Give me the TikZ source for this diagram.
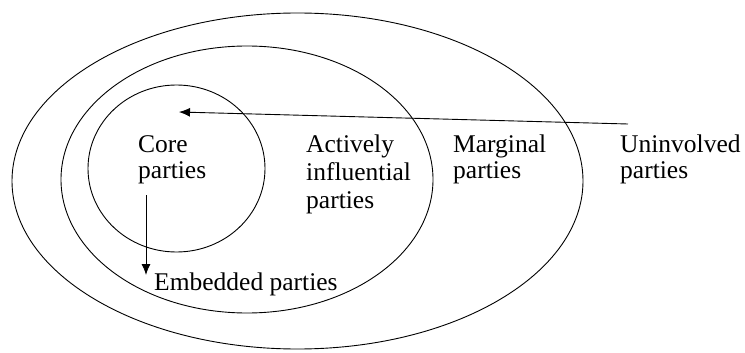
\documentclass[tikz,border=0pt]{standalone}
\usepackage{fontspec}
\setmainfont{Liberation Serif}
\usetikzlibrary{arrows.meta}
\begin{document}
\begin{tikzpicture}[x=1pt,y=-1pt,
  ring/.style={line width=0.9pt},
  lbl/.style={anchor=base west,inner sep=0pt,align=left,font=\fontsize{25.5}{25}\selectfont},
  lblwide/.style={lbl,font=\fontsize{25.5}{28}\selectfont},
  conn/.style={line width=0.9pt,-{Latex[length=11pt,width=9pt]}}]
\useasboundingbox (0,0) rectangle (745,353);
% rings
\draw[ring] (297.5,181) ellipse [x radius=285.5pt, y radius=168pt];
\draw[ring] (247,179.5) ellipse [x radius=186pt, y radius=133.5pt];
\draw[ring] (176.5,168.5) ellipse [x radius=88.5pt, y radius=83.5pt];
% labels (base anchor = baseline of the last line)
\node[lbl] (core) at (138,178) {Core\\parties};
\node[lblwide] (active) at (306,208) {Actively\\influential\\parties};
\node[lbl] (marginal) at (453,178) {Marginal\\parties};
\node[lbl] (uninv) at (620,178) {Uninvolved\\parties};
\node[lbl] (embed) at (154,290) {Embedded parties};
% connectors
\coordinate (uStart) at (628,124);
\coordinate (coreTip) at (179,112);
\coordinate (coreBelow) at (146,195);
\coordinate (embedTip) at (146,275);
\draw[conn] (uStart) -- (coreTip);
\draw[conn] (coreBelow) -- (embedTip);
\end{tikzpicture}
\end{document}
